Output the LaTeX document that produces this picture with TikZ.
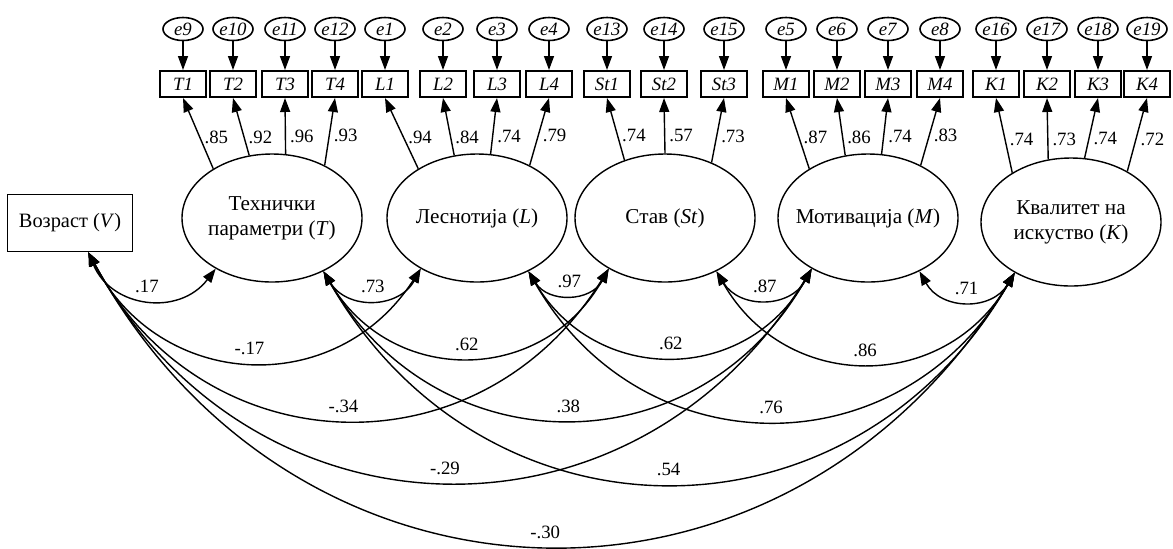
\documentclass[tikz,border=0pt]{standalone}
\usepackage{fontspec}
\setmainfont{Liberation Serif}
\usetikzlibrary{arrows.meta, shapes.geometric}

\begin{document}
\begin{tikzpicture}[
    x=0.5pt, y=0.5pt, >={Triangle[length=7pt,width=5pt]},
    font=\fontsize{9.4}{11}\selectfont,
    latent/.style={ellipse, draw, line width=0.7pt, minimum width=90pt,
      minimum height=64pt, inner sep=-5pt, align=center,
      font=\fontsize{10.6}{12.4}\selectfont},
    obs/.style={rectangle, draw, line width=0.7pt, minimum width=62.5pt,
      minimum height=28.5pt, font=\fontsize{10.2}{12}\selectfont},
    ind/.style={rectangle, draw, line width=1pt, minimum width=23pt,
      minimum height=13pt, inner sep=0pt},
    err/.style={ellipse, draw, line width=0.8pt, minimum width=20pt,
      minimum height=11.5pt, inner sep=0pt},
    lbl/.style={right, inner sep=2pt},
    cov/.style={bend right=60, looseness=1.2, line width=0.7pt},
    covlbl/.style={midway, above=2pt, inner sep=1pt},
  ]
  \useasboundingbox (0,0) rectangle (1173,-548);

  % observed and latent variables
  \node[obs]    (V)  at (70,-223)   {Возраст (\textit{V})};
  \node[latent] (T)  at (272,-218)  {Технички\\параметри (\textit{T})};
  \node[latent] (L)  at (477,-218)  {Леснотија (\textit{L})};
  \node[latent] (St) at (665,-218)  {Став (\textit{St})};
  \node[latent] (M)  at (868,-218)  {Мотивација (\textit{M})};
  \node[latent] (K)  at (1071,-222) {Квалитет на\\искуство (\textit{K})};

  % indicators, errors and loadings
  \foreach \lat/\ind/\x/\err/\ang/\val/\p in {
      T/T1/183/e9/140/.85/.44, T/T2/233/e10/110/.92/.32,
      T/T3/285/e11/78/.96/.32, T/T4/335/e12/45/.93/.44,
      L/L1/385/e1/140/.94/.44, L/L2/443/e2/110/.84/.32,
      L/L3/497/e3/78/.74/.32, L/L4/549/e4/45/.79/.44,
      St/St1/607/e13/125/.74/.4, St/St2/664/e14/90/.57/.32,
      St/St3/724/e15/50/.73/.4,
      M/M1/786/e5/140/.87/.44, M/M2/837/e6/110/.86/.32,
      M/M3/888/e7/78/.74/.32, M/M4/940/e8/45/.83/.44,
      K/K1/996/e16/140/.74/.44, K/K2/1047/e17/110/.73/.32,
      K/K3/1098/e18/78/.74/.32, K/K4/1147/e19/42/.72/.44} {
    \node[ind] (\ind) at (\x,-84) {\textit{\ind}};
    \node[err] (\err) at (\x,-29) {\textit{\err}};
    \draw[->, line width=0.7pt] (\err) -- (\ind);
    \draw[->, line width=0.7pt] (\lat.\ang) -- node[lbl, pos=\p] {\val} (\ind.south);
  }

  % end points of the covariances
  \coordinate (V-r) at (V.302);
  \foreach \n in {T,L,St,M,K} {
    \coordinate (\n-l) at (\n.222);
    \coordinate (\n-r) at (\n.314);
  }

  % covariances
  \foreach \a/\b/\v in {V/T/.17, V/L/-.17, V/St/-.34, V/M/-.29, V/K/-.30,
      T/L/.73, T/St/.62, T/M/.38, T/K/.54,
      L/St/.97, L/M/.62, L/K/.76,
      St/M/.87, St/K/.86, M/K/.71}
    \draw[<->, cov] (\a-r) to node[covlbl] {\v} (\b-l);
\end{tikzpicture}
\end{document}
